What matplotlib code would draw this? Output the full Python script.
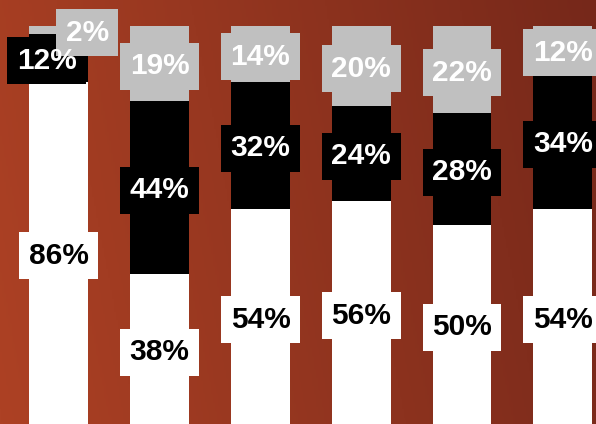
import matplotlib
matplotlib.use("Agg")
import matplotlib.pyplot as plt
import numpy as np
from matplotlib.colors import LinearSegmentedColormap

# Data: share per column, bottom (white), middle (black), top (gray)
categories = ["A", "B", "C", "D", "E", "F"]
bottom_vals = [86, 38, 54, 56, 50, 54]
middle_vals = [12, 44, 32, 24, 28, 34]
top_vals = [2, 19, 14, 20, 22, 12]

# small manual nudges for labels that would collide (in x-units)
mid_dx = [-0.12, 0, 0, 0, 0, 0]
top_dx = [0.28, 0, 0, 0, 0, 0]

plt.rcParams['font.family'] = ['Liberation Sans', 'DejaVu Sans']

fig = plt.figure(figsize=(5.96, 4.24), dpi=100)
ax = fig.add_axes([0, 0, 1, 1])

# background gradient
bg = LinearSegmentedColormap.from_list("bg", ["#ad4124", "#76281a"])
gx, gy = np.meshgrid(np.linspace(0, 1, 300), np.linspace(0, 1, 100))
grad = 0.88 * gx + 0.12 * gy
ax.imshow(grad, cmap=bg, aspect="auto", extent=[-0.585, 5.33, 106.5, 0],
          origin="upper", zorder=0)

x = np.arange(len(categories))
tot = np.array(bottom_vals) + np.array(middle_vals) + np.array(top_vals)
b = np.array(bottom_vals) / tot * 100
m = np.array(middle_vals) / tot * 100
t = np.array(top_vals) / tot * 100

w = 0.585
ax.bar(x, b, width=w, color="white", zorder=2)
ax.bar(x, m, width=w, bottom=b, color="black", zorder=2)
ax.bar(x, t, width=w, bottom=b + m, color="#c0c0c0", zorder=2)

fs = 21.5
box = "square,pad=0.32"


def label(xp, yp, s, fg, bgc, z):
    # box first, text on top of every box
    ax.text(xp, yp, s, ha="center", va="center_baseline", fontsize=fs,
            fontweight="bold", color="none", zorder=z,
            bbox=dict(boxstyle=box, facecolor=bgc, edgecolor="none"))
    ax.text(xp, yp, s, ha="center", va="center_baseline", fontsize=fs,
            fontweight="bold", color=fg, zorder=6)


for i in range(len(x)):
    label(x[i], b[i] / 2, f"{bottom_vals[i]}%", "black", "white", 3)
    label(x[i] + mid_dx[i], b[i] + m[i] / 2, f"{middle_vals[i]}%", "white", "black", 3)
    label(x[i] + top_dx[i], b[i] + m[i] + t[i] / 2, f"{top_vals[i]}%", "white", "#c0c0c0", 4)

ax.set_xlim(-0.585, 5.33)
ax.set_ylim(0, 106.5)
ax.axis("off")

fig.savefig("out.png", dpi=100)
